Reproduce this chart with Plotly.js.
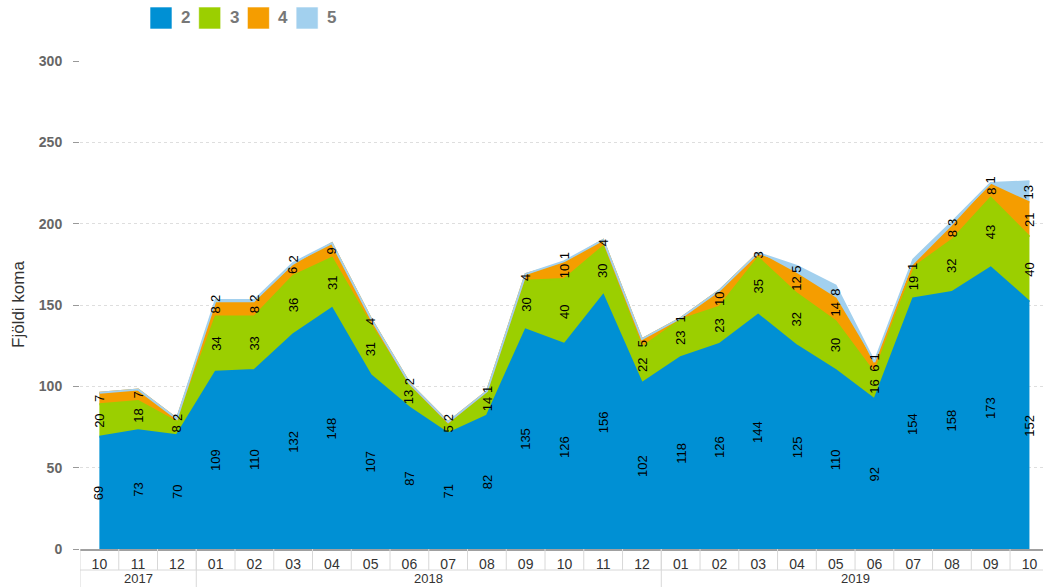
<!DOCTYPE html>
<html>
<head>
<meta charset="utf-8">
<script src="https://cdn.plot.ly/plotly-3.0.1.min.js"></script>
<style>html,body{margin:0;padding:0;background:#fff;}#chart{width:1043px;height:587px;}</style>
</head>
<body>
<div id="chart"></div>
<script>
// ---- data ----
const months = ['10','11','12','01','02','03','04','05','06','07','08','09','10','11','12','01','02','03','04','05','06','07','08','09','10'];
const years  = ['2017','2017','2017','2018','2018','2018','2018','2018','2018','2018','2018','2018','2018','2018','2018','2019','2019','2019','2019','2019','2019','2019','2019','2019','2019'];
const seriesNames = ['2','3','4','5'];
const s2 = [69,73,70,109,110,132,148,107,87,71,82,135,126,156,102,118,126,144,125,110,92,154,158,173,152];
const s3 = [20,18,8,34,33,36,31,31,13,5,14,30,40,30,22,23,23,35,32,30,16,19,32,43,40];
const s4 = [7,7,2,8,8,6,9,4,2,2,1,4,10,4,5,1,10,3,12,14,6,1,8,8,21];
const s5 = [0,0,0,2,2,2,0,0,0,0,0,0,1,0,0,0,0,0,5,8,1,4,3,1,13];
const hiddenLabels = [[3,21]]; // [series, category] labels hidden in the original (overlap)
const yTicks = [0,50,100,150,200,250,300];

const colors = ['#0090D4','#9BCF00','#F59D00','#A2D0EE'];
const series = [s2,s3,s4,s5];

// ---- geometry helpers (pixels -> paper) ----
const W = 1043, H = 587, ML = 80, MR = 0, MT = 61, MB = 38;
const PW = W - ML - MR, PH = H - MT - MB;
const px = x => (x - ML) / PW;
const py = y => (H - MB - y) / PH;
const pxPerUnit = PH / 300;

const xs = months.map((_, i) => i);

const traces = series.map((s, k) => ({
  type: 'scatter', mode: 'lines', x: xs, y: s, name: seriesNames[k],
  stackgroup: 'one', line: {color: colors[k], width: 2},
  fillcolor: colors[k], showlegend: false, hoverinfo: 'skip'
}));

const annotations = [];
// data labels (centred in band, nudged up so small neighbouring labels don't collide)
const cum = xs.map(() => 0);
const lastLabel = xs.map(() => null);
series.forEach((s, k) => {
  s.forEach((v, i) => {
    const hidden = hiddenLabels.some(h => h[0] === k && h[1] === i);
    if (v > 0 && !hidden) {
      const txt = String(v);
      let yv = cum[i] + v / 2;
      const prev = lastLabel[i];
      if (prev) {
        const sepPx = (prev.len + txt.length) * 3.7 + 4;
        yv = Math.max(yv, prev.y + sepPx / pxPerUnit);
      }
      lastLabel[i] = {y: yv, len: txt.length};
      annotations.push({
        x: i, y: yv, xref: 'x', yref: 'y', text: txt,
        showarrow: false, textangle: -90,
        font: {family: 'Liberation Sans, Arial, sans-serif', size: 13, color: '#000'}
      });
    }
    cum[i] += v;
  });
});

// year group labels and separators
const shapes = [];
const groups = [];
years.forEach((yv, i) => {
  if (!groups.length || groups[groups.length - 1].label !== yv) groups.push({label: yv, start: i, end: i});
  else groups[groups.length - 1].end = i;
});
const rowSplit = py(570), rowBottom = py(587);
groups.forEach(g => {
  annotations.push({
    x: (g.start + g.end) / 2, y: py(578), xref: 'x', yref: 'paper', text: g.label,
    showarrow: false, yanchor: 'middle',
    font: {family: 'Liberation Sans Narrow, Arial Narrow, sans-serif', size: 13, color: '#333'}
  });
  shapes.push({type: 'line', xref: 'x', yref: 'paper', x0: g.start - 0.5, x1: g.start - 0.5,
    y0: 0, y1: rowBottom, line: {color: '#d8d8d8', width: 1}});
});
xs.forEach(i => {
  shapes.push({type: 'line', xref: 'x', yref: 'paper', x0: i + 0.5, x1: i + 0.5,
    y0: 0, y1: rowSplit, line: {color: '#d8d8d8', width: 1}});
});
shapes.push({type: 'line', xref: 'paper', yref: 'paper', x0: 0, x1: 1, y0: rowSplit, y1: rowSplit,
  line: {color: '#d8d8d8', width: 1}});

// legend (custom, square swatches)
seriesNames.forEach((n, k) => {
  const x0 = 150 + k * 48.7;
  shapes.push({type: 'rect', xref: 'paper', yref: 'paper', x0: px(x0), x1: px(x0 + 22),
    y0: py(29), y1: py(7), fillcolor: colors[k], line: {color: 'rgba(255,255,255,0.6)', width: 1}});
  annotations.push({x: px(x0 + 29), y: py(18), xref: 'paper', yref: 'paper', text: '<b>' + n + '</b>',
    showarrow: false, xanchor: 'left', yanchor: 'middle',
    font: {family: 'Liberation Sans Narrow, Arial Narrow, sans-serif', size: 17, color: '#777'}});
});

// y-axis title
annotations.push({x: 0, y: 0.5, xref: 'paper', yref: 'paper', xshift: -62, text: 'Fjöldi koma',
  textangle: -90, showarrow: false, xanchor: 'center', yanchor: 'middle',
  font: {family: 'Liberation Sans, Arial, sans-serif', size: 17, color: '#333'}});

const layout = {
  width: W, height: H,
  margin: {l: ML, r: MR, t: MT, b: MB, pad: 0},
  paper_bgcolor: '#fff', plot_bgcolor: '#fff',
  showlegend: false,
  xaxis: {
    range: [-0.5, 24.35], tickvals: xs, ticktext: months, ticks: '',
    showgrid: false, zeroline: false, showline: true, linecolor: '#a0a0a0', linewidth: 2,
    tickfont: {family: 'Liberation Sans Narrow, Arial Narrow, sans-serif', size: 14, color: '#333'},
    ticklabelstandoff: 1, fixedrange: true
  },
  yaxis: {
    range: [0, 300], tickvals: yTicks, ticks: 'outside', ticklen: 6, tickcolor: '#999', tickwidth: 1,
    showgrid: true, gridcolor: '#dedede', griddash: 'dot', gridwidth: 1,
    zeroline: false, showline: false,
    tickfont: {family: 'Liberation Sans, Arial, sans-serif', size: 14, color: '#666', weight: 'bold'},
    ticklabelstandoff: 8, fixedrange: true
  },
  shapes: shapes,
  annotations: annotations
};

Plotly.newPlot('chart', traces, layout, {displayModeBar: false, staticPlot: true});
</script>
</body>
</html>
